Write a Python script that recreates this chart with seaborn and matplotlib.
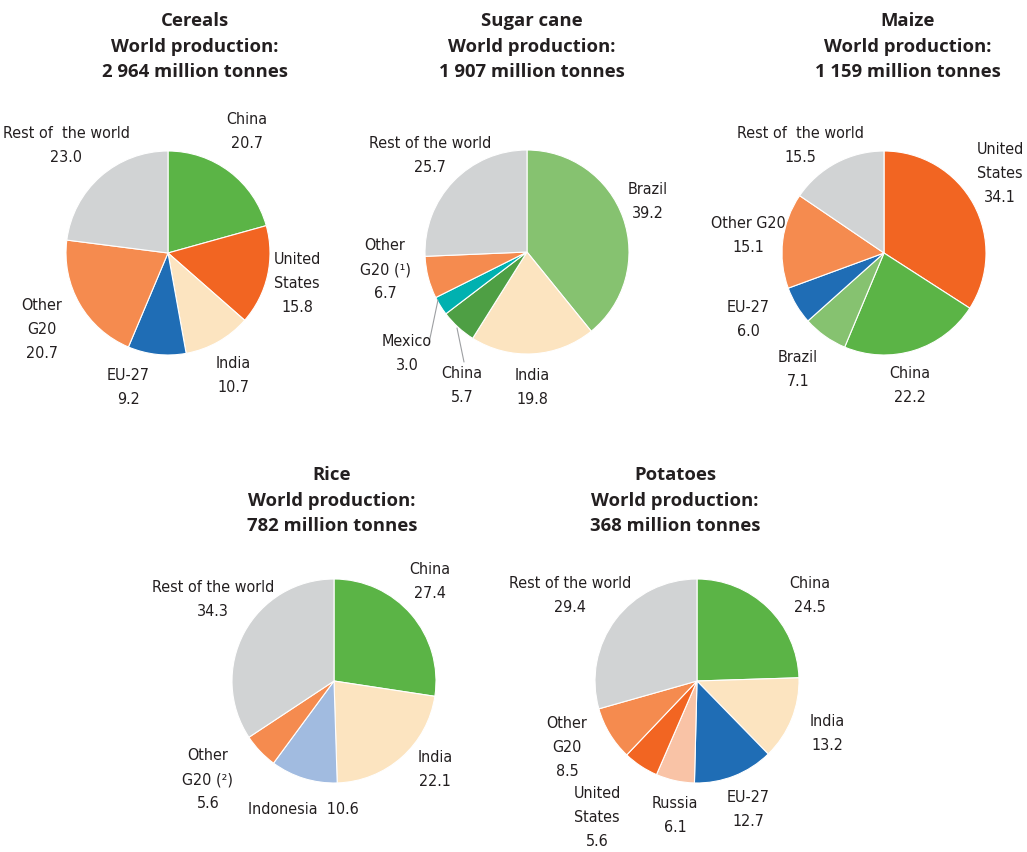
import matplotlib
matplotlib.use("Agg")
import matplotlib.pyplot as plt
from matplotlib import font_manager
import seaborn as sns

# shares of world production (%), listed clockwise from 12 o'clock
cereals_names = ["China", "United\nStates", "India", "EU-27", "Other\nG20", "Rest of  the world"]
cereals_values = [20.7, 15.8, 10.7, 9.2, 20.7, 23.0]

sugar_names = ["Brazil", "India", "China", "Mexico", "Other\nG20 (¹)", "Rest of the world"]
sugar_values = [39.2, 19.8, 5.7, 3.0, 6.7, 25.7]

maize_names = ["United\nStates", "China", "Brazil", "EU-27", "Other G20", "Rest of  the world"]
maize_values = [34.1, 22.2, 7.1, 6.0, 15.1, 15.5]

rice_names = ["China", "India", "Indonesia", "Other\nG20 (²)", "Rest of the world"]
rice_values = [27.4, 22.1, 10.6, 5.6, 34.3]

potato_names = ["China", "India", "EU-27", "Russia", "United\nStates", "Other\nG20", "Rest of the world"]
potato_values = [24.5, 13.2, 12.7, 6.1, 5.6, 8.5, 29.4]

titles = ["Cereals", "Sugar cane", "Maize", "Rice", "Potatoes"]
world_totals = ["2 964", "1 907", "1 159", "782", "368"]

# colours by category
GREEN = "#5bb446"
LIGHT_GREEN = "#86c270"
DARK_GREEN = "#4e9f44"
US_ORANGE = "#f26522"
G20_ORANGE = "#f58b4f"
EU_BLUE = "#1f6db5"
CREAM = "#fce4c0"
GREY = "#d1d3d4"
TEAL = "#00b1b0"
PALE_BLUE = "#a1bbe0"
PEACH = "#f9c3a6"

cereals_colors = [GREEN, US_ORANGE, CREAM, EU_BLUE, G20_ORANGE, GREY]
sugar_colors = [LIGHT_GREEN, CREAM, DARK_GREEN, TEAL, G20_ORANGE, GREY]
maize_colors = [US_ORANGE, GREEN, LIGHT_GREEN, EU_BLUE, G20_ORANGE, GREY]
rice_colors = [GREEN, CREAM, PALE_BLUE, G20_ORANGE, GREY]
potato_colors = [GREEN, CREAM, EU_BLUE, PEACH, US_ORANGE, G20_ORANGE, GREY]

# layout, in pixels from the top-left corner
W, H = 1027, 852
RADIUS = 102
pie_centers = [(168, 253), (527, 252), (884, 253), (334, 681), (697, 681)]
title_pos = [(195, 12), (532, 12), (908, 12), (332, 466), (675, 466)]
label_pos = [
    [(247, 132), (297, 283), (233, 376), (128, 388), (42, 329), (66, 146)],
    [(648, 202), (532, 388), (462, 386), (407, 353), (385, 270), (430, 155)],
    [(1000, 173), (910, 386), (798, 370), (748, 319), (748, 236), (800, 146)],
    [(430, 581), (435, 770), (303, 810), (208, 780), (213, 600)],
    [(810, 595), (827, 733), (748, 810), (675, 815), (597, 818), (567, 747), (570, 595)],
]
# leader lines for the small sugar cane slices (Mexico, China)
leaders = [[(438, 300), (429, 343)], [(457, 328), (464, 362)]]

# pick a narrow face if one is installed
_installed = {f.name for f in font_manager.fontManager.ttflist}
_narrow = [n for n in ["Liberation Sans Narrow", "DejaVu Sans Condensed"] if n in _installed]
LABEL_FONT = _narrow + ["DejaVu Sans"]
TITLE_FONT = ["Open Sans", "DejaVu Sans"]


def draw_pie(ax, names, values, colors, center, title, total, tpos, lpos, inline=()):
    cx, cy = center
    ax.pie(
        values,
        colors=colors,
        startangle=90,
        counterclock=False,
        radius=RADIUS,
        center=(cx, H - cy),
        wedgeprops=dict(edgecolor="white", linewidth=0.8),
    )
    ax.text(
        tpos[0], H - tpos[1],
        f"{title}\nWorld production:\n{total} million tonnes",
        ha="center", va="top", fontsize=13.3, fontweight="bold",
        family=TITLE_FONT, color="#231f20", linespacing=1.55,
    )
    for name, val, (lx, ly) in zip(names, values, lpos):
        sep = "  " if name in inline else "\n"
        ax.text(
            lx, H - ly, f"{name}{sep}{val:.1f}",
            ha="center", va="center", fontsize=11.5, fontstretch="condensed",
            family=LABEL_FONT, color="#231f20", linespacing=1.75,
        )


sns.set_theme(style="white")
fig = plt.figure(figsize=(W / 100, H / 100), dpi=100)
ax = fig.add_axes([0, 0, 1, 1])

charts = [
    (cereals_names, cereals_values, cereals_colors),
    (sugar_names, sugar_values, sugar_colors),
    (maize_names, maize_values, maize_colors),
    (rice_names, rice_values, rice_colors),
    (potato_names, potato_values, potato_colors),
]
for i, (names, values, colors) in enumerate(charts):
    draw_pie(ax, names, values, colors, pie_centers[i], titles[i], world_totals[i],
             title_pos[i], label_pos[i], inline=("Indonesia",))

for (x0, y0), (x1, y1) in leaders:
    ax.plot([x0, x1], [H - y0, H - y1], color="#9d9fa2", linewidth=0.8)

ax.set_xlim(0, W)
ax.set_ylim(0, H)
ax.set_aspect("equal")
ax.axis("off")

fig.savefig("out.png", dpi=100, facecolor="white")
plt.close(fig)
